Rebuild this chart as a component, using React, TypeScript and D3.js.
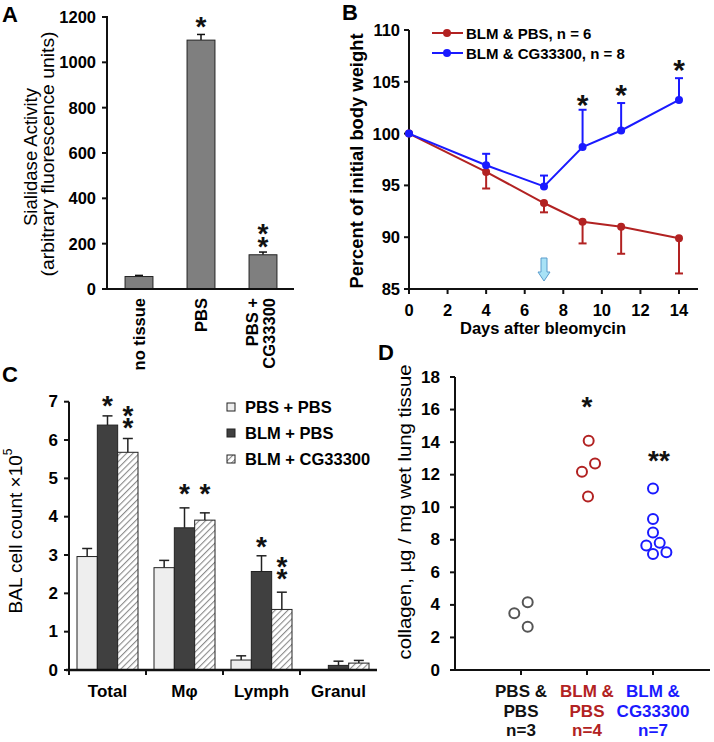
import React from "react";
import * as d3 from "d3";

const FONT = "'Liberation Sans', Arial, Helvetica, sans-serif";

// ---------- Panel A ----------
const aCategories = ["no tissue", "PBS", "PBS + CG33300"];
const aLabelLines = [["no tissue"], ["PBS"], ["PBS +", "CG33300"]];
const aValues = [55, 1098, 151];
const aErrors = [5, 25, 12];
const aYTicks = [0, 200, 400, 600, 800, 1000, 1200];
const aStarCount = [0, 1, 2];
const aStarLevel = [0, 1187, 216];

// ---------- Panel B ----------
const bDays = [0, 4, 7, 9, 11, 14];
const bPBS = [100, 96.3, 93.3, 91.5, 91.0, 89.9];
const bPBSErr = [0, 1.6, 0.9, 2.1, 2.6, 3.4];
const bCG = [100, 96.95, 94.9, 98.7, 100.3, 103.25];
const bCGErr = [0, 1.1, 1.05, 3.6, 2.65, 2.1];
const bXTicks = [0, 2, 4, 6, 8, 10, 12, 14];
const bYTicks = [85, 90, 95, 100, 105, 110];
const bStarDays = [9, 11, 14];
const bStarLevels = [103.5, 104.5, 106.9];
const bLegend = ["BLM & PBS, n = 6", "BLM & CG33300, n = 8"];
const bArrowDay = 7;

// ---------- Panel C ----------
const cGroups = ["Total", "Mφ", "Lymph", "Granul"];
const cSeries = ["PBS + PBS", "BLM + PBS", "BLM + CG33300"];
const cPbsPbs = [2.96, 2.67, 0.26, 0.0];
const cBlmPbs = [6.39, 3.71, 2.57, 0.12];
const cBlmCg = [5.68, 3.91, 1.58, 0.18];
const cPbsPbsErr = [0.21, 0.19, 0.11, 0];
const cBlmPbsErr = [0.24, 0.52, 0.41, 0.11];
const cBlmCgErr = [0.36, 0.19, 0.45, 0.07];
const cYTicks = [0, 1, 2, 3, 4, 5, 6, 7];
const cBlmPbsStars = [1, 1, 1, 0];
const cBlmCgStars = [2, 1, 2, 0];
const cBlmPbsStarLevel = [7.07, 4.78, 3.39, 0];
const cBlmCgStarLevel = [6.5, 4.78, 2.56, 0];

// ---------- Panel D ----------
const dGroups = ["PBS & PBS", "BLM & PBS", "BLM & CG33300"];
const dLabels = [["PBS &", "PBS", "n=3"], ["BLM &", "PBS", "n=4"], ["BLM &", "CG33300", "n=7"]];
const dPbsPbs = [3.49, 4.16, 2.66];
const dBlmPbs = [14.08, 12.69, 12.18, 10.66];
const dBlmCg = [11.15, 9.27, 8.45, 7.65, 7.81, 7.13, 7.24];
const dPbsPbsSlot = [-1, 1, 1];
const dBlmPbsSlot = [0.25, 1.2, -0.75, 0.15];
const dBlmCgSlot = [0, 0, 0, -1, 1, 0, 2];
const dYTicks = [0, 2, 4, 6, 8, 10, 12, 14, 16, 18];
const dStars = ["", "*", "**"];
const dStarLevel = [0, 16.6, 13.3];

const RED = "#b22222";
const BLUE = "#1a1aff";
const GRAY = "#555555";
const INK = "#111";

const STAR_FS = 28;
// Stacked asterisks drawn as one text element (cy = centre of the lowest star)
function Stars({ cx, cy, n, gap = 12, fs = STAR_FS }: any) {
  if (!n) return null;
  const base = cy + 0.585 * fs;
  return (
    <text x={cx} y={base - (n - 1) * gap} textAnchor="middle" fontSize={fs} fontWeight="bold" fill={INK}>
      {d3.range(n).map((i) => (
        <tspan key={i} x={cx} dy={i === 0 ? 0 : gap}>*</tspan>
      ))}
    </text>
  );
}

function PanelA() {
  const y = d3.scaleLinear().domain([0, 1200]).range([289, 17]);
  const x = d3.scaleBand<string>().domain(aCategories).range([108, 294]).paddingInner(0.55).paddingOuter(0.275);
  const bw = x.bandwidth();
  return (
    <g>
      <text x={2} y={22} fontSize={22} fontWeight="bold">A</text>
      <text transform="translate(31,157) rotate(-90)" textAnchor="middle" dominantBaseline="central" fontSize={18} textLength={138} lengthAdjust="spacingAndGlyphs">Sialidase Activity</text>
      <text transform="translate(48,154) rotate(-90)" textAnchor="middle" dominantBaseline="central" fontSize={18} textLength={245} lengthAdjust="spacingAndGlyphs">(arbitrary fluorescence units)</text>
      {aValues.map((v, i) => {
        const c = aCategories[i];
        const x0 = x(c)!;
        const cx = x0 + bw / 2;
        return (
          <g key={c}>
            <line x1={cx} x2={cx} y1={y(v)} y2={y(v + aErrors[i])} stroke={INK} strokeWidth={1.5} />
            <line x1={cx - 4} x2={cx + 4} y1={y(v + aErrors[i])} y2={y(v + aErrors[i])} stroke={INK} strokeWidth={1.5} />
            <rect x={x0} y={y(v)} width={bw} height={y(0) - y(v)} fill="#7f7f7f" stroke="#222" strokeWidth={1} />
            <Stars cx={cx} cy={y(aStarLevel[i])} n={aStarCount[i]} gap={13} />
            {aLabelLines[i].map((t, j) => (
              <text key={j} transform={`translate(${cx + (aLabelLines[i].length === 1 ? 0 : (j === 0 ? -11 : 6))},298) rotate(-90)`} textAnchor="end" dominantBaseline="central" fontSize={16.5} fontWeight="bold">{t}</text>
            ))}
          </g>
        );
      })}
      <line x1={107} x2={107} y1={y(1200) - 1} y2={y(0)} stroke={INK} strokeWidth={2} />
      <line x1={103} x2={294} y1={y(0)} y2={y(0)} stroke={INK} strokeWidth={2} />
      {aYTicks.map((t) => (
        <g key={t}>
          <line x1={102} x2={107} y1={y(t)} y2={y(t)} stroke={INK} strokeWidth={2} />
          <text x={96} y={y(t)} textAnchor="end" dominantBaseline="central" fontSize={16.5} fontWeight="bold">{t}</text>
        </g>
      ))}
    </g>
  );
}

function PanelB() {
  const x = d3.scaleLinear().domain([0, 14]).range([409, 679]);
  const y = d3.scaleLinear().domain([85, 110]).range([289, 30]);
  const line = d3.line<number>().x((_, i) => x(bDays[i])).y((d) => y(d));
  const series = [
    { vals: bPBS, err: bPBSErr, color: RED, dir: -1 },
    { vals: bCG, err: bCGErr, color: BLUE, dir: 1 },
  ];
  const ax = x(bArrowDay);
  return (
    <g>
      <text x={342} y={20} fontSize={22} fontWeight="bold">B</text>
      <text transform="translate(357,161) rotate(-90)" textAnchor="middle" dominantBaseline="central" fontSize={18} fontWeight="bold" textLength={255} lengthAdjust="spacingAndGlyphs">Percent of initial body weight</text>
      <text x={543} y={334} textAnchor="middle" fontSize={16.5} fontWeight="bold">Days after bleomycin</text>
      <line x1={409} x2={409} y1={y(110)} y2={y(85)} stroke={INK} strokeWidth={2} />
      <line x1={409} x2={698} y1={y(85)} y2={y(85)} stroke={INK} strokeWidth={2} />
      {bYTicks.map((t) => (
        <g key={t}>
          <line x1={404} x2={409} y1={y(t)} y2={y(t)} stroke={INK} strokeWidth={2} />
          <text x={400} y={y(t)} textAnchor="end" dominantBaseline="central" fontSize={16.5} fontWeight="bold">{t}</text>
        </g>
      ))}
      {bXTicks.map((t) => (
        <g key={t}>
          <line x1={x(t)} x2={x(t)} y1={y(85)} y2={y(85) + 5} stroke={INK} strokeWidth={2} />
          <text x={x(t)} y={316} textAnchor="middle" fontSize={16.5} fontWeight="bold">{t}</text>
        </g>
      ))}
      <path
        d={`M${ax - 3},258 L${ax + 3},258 L${ax + 3},272 L${ax + 6},272 L${ax},281 L${ax - 6},272 L${ax - 3},272 Z`}
        fill="#a8e2f6"
        stroke="#5a9ccc"
        strokeWidth={1}
      />
      {series.map((s, k) => (
        <g key={k}>
          <path d={line(s.vals) || ""} fill="none" stroke={s.color} strokeWidth={2} />
          {s.vals.map((v, i) =>
            s.err[i] > 0 ? (
              <g key={i}>
                <line x1={x(bDays[i])} x2={x(bDays[i])} y1={y(v)} y2={y(v + s.dir * s.err[i])} stroke={s.color} strokeWidth={2} />
                <line x1={x(bDays[i]) - 4} x2={x(bDays[i]) + 4} y1={y(v + s.dir * s.err[i])} y2={y(v + s.dir * s.err[i])} stroke={s.color} strokeWidth={2} />
              </g>
            ) : null
          )}
          {s.vals.map((v, i) => (
            <circle key={"m" + i} cx={x(bDays[i])} cy={y(v)} r={4} fill={s.color} />
          ))}
        </g>
      ))}
      {bStarDays.map((d, i) => (
        <Stars key={d} cx={x(d)} cy={y(bStarLevels[i])} n={1} fs={30} />
      ))}
      {bLegend.map((t, i) => {
        const ly = 33 + i * 20;
        const c = i === 0 ? RED : BLUE;
        return (
          <g key={t}>
            <line x1={432} x2={463} y1={ly} y2={ly} stroke={c} strokeWidth={2} />
            <circle cx={447} cy={ly} r={4} fill={c} />
            <text x={466} y={ly} dominantBaseline="central" fontSize={15} fontWeight="bold">{t}</text>
          </g>
        );
      })}
    </g>
  );
}

function PanelC() {
  const y = d3.scaleLinear().domain([0, 7]).range([670, 401.7]);
  const x = d3.scaleBand<string>().domain(cGroups).range([69, 377]);
  const xs = d3.scaleBand<string>().domain(cSeries).range([8, 69]);
  const bw = xs.bandwidth();
  const fills = ["#eeeeee", "#404040", "url(#hatch)"];
  const vals = [cPbsPbs, cBlmPbs, cBlmCg];
  const errs = [cPbsPbsErr, cBlmPbsErr, cBlmCgErr];
  const starN = [null, cBlmPbsStars, cBlmCgStars];
  const starL = [null, cBlmPbsStarLevel, cBlmCgStarLevel];
  return (
    <g>
      <defs>
        <pattern id="hatch" width={4.5} height={4.5} patternUnits="userSpaceOnUse" patternTransform="rotate(45)">
          <rect width={4.5} height={4.5} fill="#fff" />
          <line x1={0} y1={0} x2={0} y2={4.5} stroke="#8a8a8a" strokeWidth={2.2} />
        </pattern>
      </defs>
      <text x={2} y={382} fontSize={22} fontWeight="bold">C</text>
      <text transform="translate(15,531) rotate(-90)" textAnchor="middle" dominantBaseline="central" fontSize={19}>
        BAL cell count ×10<tspan dy={-7} fontSize={12}>5</tspan>
      </text>
      {cGroups.map((g, gi) => (
        <g key={g}>
          {cSeries.map((s, si) => {
            const x0 = x(g)! + xs(s)!;
            const cx = x0 + bw / 2;
            const v = vals[si][gi];
            const e = errs[si][gi];
            const n = starN[si] ? starN[si]![gi] : 0;
            return (
              <g key={s}>
                {e > 0 && (
                  <>
                    <line x1={cx} x2={cx} y1={y(v)} y2={y(v + e)} stroke="#222" strokeWidth={1.5} />
                    <line x1={cx - 5} x2={cx + 5} y1={y(v + e)} y2={y(v + e)} stroke="#222" strokeWidth={1.5} />
                  </>
                )}
                <rect x={x0} y={y(v)} width={bw} height={Math.max(0, y(0) - y(v))} fill={fills[si]} stroke="#222" strokeWidth={1} />
                {n > 0 && <Stars cx={cx} cy={y(starL[si]![gi])} n={n} gap={12} />}
              </g>
            );
          })}
          <text x={x(g)! + x.bandwidth() / 2} y={697} textAnchor="middle" fontSize={17} fontWeight="bold">{g}</text>
        </g>
      ))}
      <line x1={69} x2={69} y1={y(7)} y2={y(0)} stroke={INK} strokeWidth={2} />
      <line x1={66} x2={377} y1={y(0)} y2={y(0)} stroke={INK} strokeWidth={2.5} />
      {cGroups.map((g) => (
        <line key={g} x1={x(g)!} x2={x(g)!} y1={y(0)} y2={y(0) + 5} stroke={INK} strokeWidth={2} />
      ))}
      {cYTicks.map((t) => (
        <g key={t}>
          <line x1={64} x2={69} y1={y(t)} y2={y(t)} stroke={INK} strokeWidth={2} />
          <text x={58} y={y(t)} textAnchor="end" dominantBaseline="central" fontSize={17} fontWeight="bold">{t}</text>
        </g>
      ))}
      {cSeries.map((s, i) => {
        const ly = 407 + i * 26;
        return (
          <g key={s}>
            <rect x={227} y={ly - 4} width={8} height={8} fill={fills[i]} stroke="#222" strokeWidth={1} />
            <text x={245} y={ly} dominantBaseline="central" fontSize={16.5} fontWeight="bold">{s}</text>
          </g>
        );
      })}
    </g>
  );
}

function PanelD() {
  const y = d3.scaleLinear().domain([0, 18]).range([670, 377]);
  const x = d3.scalePoint<string>().domain(dGroups).range([521, 653]);
  const SLOT = 6.7;
  const groups = [
    { vals: dPbsPbs, slots: dPbsPbsSlot, color: GRAY },
    { vals: dBlmPbs, slots: dBlmPbsSlot, color: RED },
    { vals: dBlmCg, slots: dBlmCgSlot, color: BLUE },
  ];
  const labelColors = ["#111", RED, BLUE];
  return (
    <g>
      <text x={378} y={360} fontSize={22} fontWeight="bold">D</text>
      <text transform="translate(405,512) rotate(-90)" textAnchor="middle" dominantBaseline="central" fontSize={18} textLength={295} lengthAdjust="spacingAndGlyphs">collagen, µg / mg wet lung tissue</text>
      <line x1={455} x2={455} y1={y(18)} y2={y(0)} stroke={INK} strokeWidth={2} />
      <line x1={455} x2={710} y1={y(0)} y2={y(0)} stroke={INK} strokeWidth={2} />
      {dYTicks.map((t) => (
        <g key={t}>
          <line x1={450} x2={455} y1={y(t)} y2={y(t)} stroke={INK} strokeWidth={2} />
          <text x={440} y={y(t)} textAnchor="end" dominantBaseline="central" fontSize={17} fontWeight="bold">{t}</text>
        </g>
      ))}
      {dGroups.map((g, gi) => (
        <g key={g}>
          <line x1={x(g)!} x2={x(g)!} y1={y(0)} y2={y(0) + 5} stroke={INK} strokeWidth={2} />
          {dLabels[gi].map((t, j) => (
            <text key={j} x={x(g)!} y={697 + j * 19.5} textAnchor="middle" fontSize={17} fontWeight="bold" fill={labelColors[gi]}>{t}</text>
          ))}
          {groups[gi].vals.map((v, i) => (
            <circle key={i} cx={x(g)! + groups[gi].slots[i] * SLOT} cy={y(v)} r={5} fill="none" stroke={groups[gi].color} strokeWidth={2} />
          ))}
          {dStars[gi] && (
            <text x={x(g)! + (dStars[gi].length > 1 ? 6 : 0)} y={y(dStarLevel[gi]) + 0.585 * STAR_FS} textAnchor="middle" fontSize={STAR_FS} fontWeight="bold" fill={INK}>{dStars[gi]}</text>
          )}
        </g>
      ))}
    </g>
  );
}

export default function App() {
  return (
    <svg width={714} height={742} style={{ position: "absolute", left: 0, top: 0, background: "#fff" }} fontFamily={FONT}>
      <rect width={714} height={742} fill="#fff" />
      <PanelA />
      <PanelB />
      <PanelC />
      <PanelD />
    </svg>
  );
}
